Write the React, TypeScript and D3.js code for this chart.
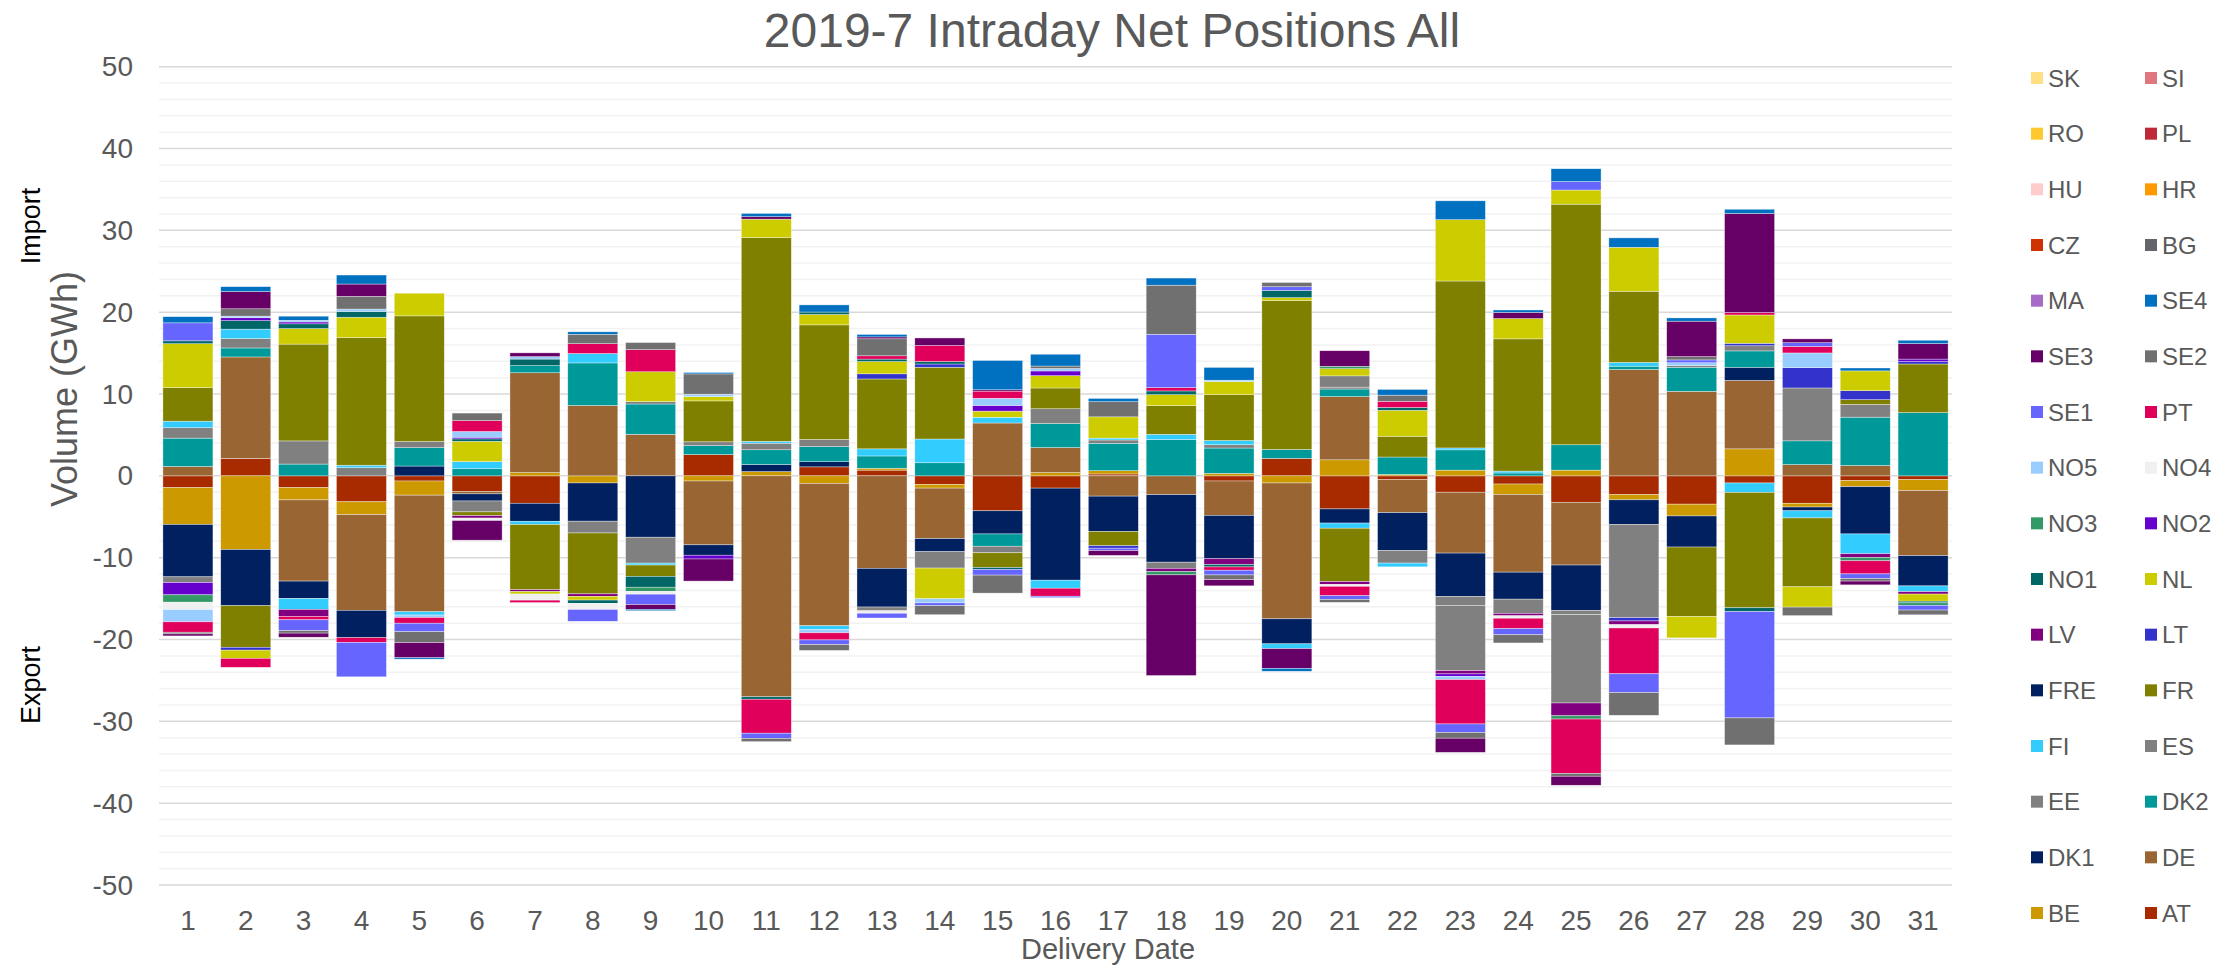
import * as d3 from 'd3';
import React from 'react';

// delivery days 1..31
const days = d3.range(1, 32).map(String);

// net position per day (GWh), positive = import, negative = export
const AT = [-1.44, 2.13, -1.44, -3.17, -0.63, -1.9, -3.35, 0, 0, 2.6, 0, 1.1, 0.7, -1.04, -4.27, -1.5, 0.23, 0, -0.63, 2.13, -4.04, -0.46, -2.0, -1.0, -3.23, -2.3, -3.46, -0.87, -3.35, -0.58, -0.46];
const BE = [-4.5, -9.0, -1.5, -1.56, -1.73, 0, 0.4, -0.87, 0, -0.63, 0.52, -0.92, 0.23, -0.46, 0, 0.4, 0.4, 0, 0.3, -0.87, 1.96, 0.17, 0.7, -1.27, 0.7, -0.63, -1.44, 3.3, -0.46, -0.75, -1.33];
const DE = [1.15, 12.4, -9.92, -11.7, -14.25, -0.3, 12.2, 8.6, 5.08, -7.8, -27.0, -17.4, -11.3, -6.17, 6.46, 3.06, -2.48, -2.3, -4.2, -16.6, 7.73, -4.04, -7.44, -9.5, -7.67, 13.0, 10.33, 8.37, 1.38, 1.27, -7.96];
const DK1 = [-6.4, -6.87, -2.13, -3.35, 1.2, -0.87, -2.2, -4.67, -7.5, -1.27, 0.87, 0.63, -4.73, -1.6, -2.83, -11.25, -4.33, -8.25, -5.3, -3.06, -1.73, -4.6, -5.3, -3.3, -5.54, -3.0, -3.8, 1.6, -0.46, -5.77, -3.7];
const DK2 = [3.46, 1.1, 1.44, 0, 2.25, 0.87, 0.87, 5.2, 3.7, 1.1, 1.8, 1.85, 1.5, 1.6, -1.5, 2.94, 3.35, 4.44, 3.1, 1.1, 0.92, 2.13, 2.48, 0.35, 3.1, 0.4, 2.94, 2.0, 2.9, 5.9, 7.73];
const EE = [-0.7, 0, 0, 0, 0, 0, 0, 0, 0.3, 0, 0, 0, 0, 0, 0, 0, 0, 0, 0, 0, 0.23, 0, -1.1, 0, -0.52, 0, 0, 0, 0, 0, 0];
const ES = [1.27, 1.15, 2.83, 1.0, 0.75, -1.33, 0, -1.44, -3.17, 0.46, 0.8, 0.87, -0.46, -2.0, -0.8, 1.8, 0.4, -0.75, 0.4, 0, 1.38, -1.56, -7.96, -1.73, -10.8, -11.4, 0.2, 0.63, 6.46, 1.56, 0];
const FI = [0.8, 1.15, -1.33, 0.3, -0.4, 0.87, -0.4, 1.15, -0.23, 0, 0.23, -0.46, 0.87, 2.9, 0.7, -0.98, 0.23, 0.63, 0.52, -0.58, -0.63, -0.46, 0.23, 0.23, 0, 0.46, 0, -1.15, -0.87, -2.42, -0.7];
const FR = [4.1, -5.08, 11.83, 15.6, 15.35, -0.46, -7.96, -7.44, -1.38, 5.0, 24.9, 14.0, 8.54, 8.77, -1.8, 2.54, -1.73, 3.52, 5.6, 18.2, -6.52, 2.54, 20.4, 16.16, 29.4, 8.7, -8.5, -14.1, -8.42, 0.58, 5.94];
const FRE = [0, 0, 0, 0, 0, 0, 0, 0, 0, 0, 0, 0, 0, 0, 0, 0, 0, 0, 0, 0, 0, 0, 0, 0, 0, 0, 0, 0, 0, 0, 0];
const LT = [0, -0.35, 0, 0, 0, 0, 0, 0, 0, 0, 0, 0, 0.63, 0.4, 0, 0, -0.3, 0, 0, 0, 0, 0, 0, 0, 0, -0.4, 0, 0.3, 2.48, 1.1, 0.3];
const LV = [0, 0, -0.87, 0, 0, -0.3, -0.23, -0.3, 0, 0, 0, 0, 0, 0, 0, 0, 0, -0.4, -0.7, 0, -0.35, 0, -0.4, -0.3, -1.56, -0.46, 0, 0, 0, -0.46, -0.3];
const NL = [5.37, -1.0, 1.9, 2.48, 2.77, 2.48, -0.3, -0.46, 3.64, 0.52, 2.25, 1.27, 1.5, -3.75, 0.75, 1.5, 2.6, 1.33, 1.6, 0.35, 0.87, 3.17, 7.5, 2.48, 1.73, 5.37, -2.6, 3.46, -2.48, 2.42, -0.87];
const NO1 = [0.35, 1.04, 0.58, 0.7, 0, 0.3, 0.8, -0.4, -1.33, 0, -0.3, 0.3, 0.3, 0.3, -0.23, 0, 0, 0.46, -0.3, 0.87, 0, 0.35, 0, 0, 0, 0, 0, -0.46, 0, 0, -0.2];
const NO2 = [-1.5, 0.35, 0.23, 0, 0, 0.2, 0, 0, 0, -0.46, 0, 0, 0, 0, 0.7, 0.58, 0, 0, 0, 0, 0, 0, -0.3, 0, 0, 0, 0, 0, 0, 0, 0.3];
const NO3 = [-0.9, 0, 0, 0, 0, 0, 0, 0, -0.5, 0, 0, 0, 0, 0, 0, 0, 0, -0.4, 0, 0, 0.3, 0, 0, 0, -0.4, 0, 0, 0, 0, -0.4, -0.3];
const NO4 = [-0.9, 0, 0, 0, 0, -0.3, -0.75, -0.75, -0.35, 0, 0, 0, -0.3, 0, 0, 0, 0, 0, 0, 0, -0.23, 0, 0, -0.3, 0, -0.4, 0, 0, 0, 0, 0];
const NO5 = [-1.5, 0.2, 0.2, 0.3, -0.3, 0.7, 0.3, 0, 0, 0.3, 0, -0.4, 0, -0.5, 0.87, 0.3, 0, 0, 0.17, 0, 0, 0, -0.4, 0, 0, 0, 0.35, 0, 1.8, 0, 0];
const PT = [-1.27, -1.1, -0.4, -0.58, -0.7, 1.33, -0.3, 1.2, 2.7, 0, -4.15, -0.87, 0.4, 1.96, 0.87, -0.98, 0, 0.4, -0.4, 0, -1.15, 0.75, -5.42, -1.27, -6.64, -5.6, 0, 0.3, 0.8, -1.6, 0];
const SE1 = [2.2, 0, -1.33, -4.2, -1.04, 0, 0, -1.44, -1.27, 0, -0.63, -0.58, -0.58, -0.35, -0.7, -0.17, -0.3, 6.52, -0.58, 0.46, -0.46, 0, -1.04, -0.75, 1.04, -2.3, 0.35, -13.0, 0.46, -0.58, -0.58];
const SE2 = [-0.2, 0.9, -0.3, 1.56, -1.33, 0.92, 0, 1.15, 0.87, 2.48, -0.4, -0.7, 2.08, -1.1, -2.2, 0.3, 1.85, 6.0, -0.58, 0.52, -0.35, 0.75, -0.7, -1.0, -0.35, -2.77, 0.4, -3.3, -1.04, -0.3, -0.58];
const SE3 = [-0.25, 2.1, -0.5, 1.5, -1.85, -2.4, 0.46, 0, -0.58, -2.7, 0.3, 0, 0.23, 0.92, 0.17, 0, -0.58, -12.3, -0.75, -2.42, 1.9, 0, -1.73, 0.75, -1.1, 0, 4.33, 12.1, 0.46, -0.46, 1.9];
const SE4 = [0.75, 0.6, 0.5, 1.1, -0.17, 0, 0, 0.3, -0.17, 0.17, 0.4, 0.87, 0.3, 0, 3.58, 1.44, 0.4, 0.87, 1.56, -0.35, 0, 0.7, 2.3, 0.3, 1.56, 1.15, 0.4, 0.52, 0, 0.35, 0.4];
const MA = [0, 0, 0, 0, 0, 0, 0, 0, 0, 0, 0, 0, 0, 0, 0, 0, 0, 0, 0, 0, 0, 0, 0, 0, 0, 0, 0, 0, 0, 0, 0];
const BG = [0, 0, 0, 0, 0, 0, 0, 0, 0, 0, 0, 0, 0, 0, 0, 0, 0, 0, 0, 0, 0, 0, 0, 0, 0, 0, 0, 0, 0, 0, 0];
const CZ = [0, 0, 0, 0, 0, 0, 0, 0, 0, 0, 0, 0, 0, 0, 0, 0, 0, 0, 0, 0, 0, 0, 0, 0, 0, 0, 0, 0, 0, 0, 0];
const HR = [0, 0, 0, 0, 0, 0, 0, 0, 0, 0, 0, 0, 0, 0, 0, 0, 0, 0, 0, 0, 0, 0, 0, 0, 0, 0, 0, 0, 0, 0, 0];
const HU = [0, 0, 0, 0, 0, 0, 0, 0, 0, 0, 0, 0, 0, 0, 0, 0, 0, 0, 0, 0, 0, 0, 0, 0, 0, 0, 0, 0, 0, 0, 0];
const PL = [0, 0, 0, 0, 0, 0, 0, 0, 0, 0, 0, 0, 0, 0, 0, 0, 0, 0, 0, 0, 0, 0, 0, 0, 0, 0, 0, 0, 0, 0, 0];
const RO = [0, 0, 0, 0, 0, 0, 0, 0, 0, 0, 0, 0, 0, 0, 0, 0, 0, 0, 0, 0, 0, 0, 0, 0, 0, 0, 0, 0, 0, 0, 0];
const SI = [0, 0, 0, 0, 0, 0, 0, 0, 0, 0, 0, 0, 0, 0, 0, 0, 0, 0, 0, 0, 0, 0, 0, 0, 0, 0, 0, 0, 0, 0, 0];
const SK = [0, 0, 0, 0, 0, 0, 0, 0, 0, 0, 0, 0, 0, 0, 0, 0, 0, 0, 0, 0, 0, 0, 0, 0, 0, 0, 0, 0, 0, 0, 0];

const series: [string, number[], string][] = [
  ['AT', AT, '#A82B00'], ['BE', BE, '#CC9900'], ['DE', DE, '#996633'], ['DK1', DK1, '#002060'],
  ['DK2', DK2, '#009999'], ['EE', EE, '#808080'], ['ES', ES, '#808080'], ['FI', FI, '#33CCFF'],
  ['FR', FR, '#808000'], ['FRE', FRE, '#002060'], ['LT', LT, '#3333CC'], ['LV', LV, '#800080'],
  ['NL', NL, '#CCCC00'], ['NO1', NO1, '#006666'], ['NO2', NO2, '#6600CC'], ['NO3', NO3, '#339966'],
  ['NO4', NO4, '#F0F0F0'], ['NO5', NO5, '#99CCFF'], ['PT', PT, '#E0005C'], ['SE1', SE1, '#6666FF'],
  ['SE2', SE2, '#707070'], ['SE3', SE3, '#660066'], ['SE4', SE4, '#0070C0'], ['MA', MA, '#A56BC6'],
  ['BG', BG, '#64656B'], ['CZ', CZ, '#CC3300'], ['HR', HR, '#FF9900'], ['HU', HU, '#FFCCCC'],
  ['PL', PL, '#BF2836'], ['RO', RO, '#FFC82E'], ['SI', SI, '#E0777F'], ['SK', SK, '#FFDF80'],
];

const keys = series.map(s => s[0]);
const color = new Map(series.map(s => [s[0], s[2]] as [string, string]));
const yTicks = [-50, -40, -30, -20, -10, 0, 10, 20, 30, 40, 50];

const font = 'Liberation Sans, Arial, sans-serif';
const textColor = '#595959';

const App: React.FC = () => {
  const rows = days.map((d, i) => {
    const r: Record<string, number | string> = { day: d };
    series.forEach(([k, vals]) => { r[k] = vals[i]; });
    return r;
  });

  const stacked = d3.stack<Record<string, number | string>>()
    .keys(keys)
    .value((d, k) => d[k] as number)
    .offset(d3.stackOffsetDiverging)(rows);

  const x = d3.scaleBand()
    .domain(days)
    .range([159, 1952])
    .paddingInner(0.135)
    .paddingOuter(0.0675);

  const y = d3.scaleLinear().domain([-50, 50]).range([885, 66.7]);

  const legendOrder = keys.slice().reverse();
  const rowY = d3.scaleLinear().domain([0, 15]).range([78, 913]);

  return (
    <svg width={2239} height={967} style={{ position: 'absolute', left: 0, top: 0, display: 'block', background: '#fff' }}>
      <text x={1112} y={30} textAnchor="middle" dominantBaseline="central" fontFamily={font} fontSize={48} fill={textColor}>
        2019-7 Intraday Net Positions All
      </text>

      <g>
        {d3.range(-50, 51, 2).map(v => (
          <line key={v} x1={159} x2={1952} y1={y(v)} y2={y(v)}
            stroke={v % 10 === 0 ? '#D9D9D9' : '#F2F2F2'} strokeWidth={1.5} />
        ))}
      </g>

      <g>
        {stacked.map(layer => (
          <g key={layer.key} fill={color.get(layer.key)}>
            {layer.map((seg, i) => {
              const h = Math.abs(y(seg[0]) - y(seg[1]));
              if (h < 0.01) return null;
              return (
                <rect key={i} x={x(days[i])} width={x.bandwidth()}
                  y={Math.min(y(seg[0]), y(seg[1]))} height={h}
                  stroke="#ffffff" strokeOpacity={0.6} strokeWidth={0.6} />
              );
            })}
          </g>
        ))}
      </g>

      <g fontFamily={font} fontSize={28} fill={textColor}>
        {yTicks.map(t => (
          <text key={t} x={133} y={y(t)} textAnchor="end" dominantBaseline="central">{t}</text>
        ))}
        {days.map(d => (
          <text key={d} x={(x(d) as number) + x.bandwidth() / 2} y={920} textAnchor="middle" dominantBaseline="central">{d}</text>
        ))}
      </g>

      <text x={1108} y={949} textAnchor="middle" dominantBaseline="central" fontFamily={font} fontSize={29} fill={textColor}>
        Delivery Date
      </text>
      <text transform="translate(64,389) rotate(-90)" textAnchor="middle" dominantBaseline="central" fontFamily={font} fontSize={36} fill={textColor}>
        Volume (GWh)
      </text>
      <text transform="translate(31,226) rotate(-90)" textAnchor="middle" dominantBaseline="central" fontFamily={font} fontSize={27} fill="#000">
        Import
      </text>
      <text transform="translate(31,685) rotate(-90)" textAnchor="middle" dominantBaseline="central" fontFamily={font} fontSize={27} fill="#000">
        Export
      </text>

      <g fontFamily={font} fontSize={24} fill={textColor}>
        {legendOrder.map((k, i) => {
          const col = i % 2;
          const row = Math.floor(i / 2);
          const sx = col === 0 ? 2031 : 2145;
          const cy = rowY(row);
          return (
            <g key={k}>
              <rect x={sx} y={cy - 6} width={12} height={12} fill={color.get(k)} />
              <text x={sx + 17} y={cy} dominantBaseline="central">{k}</text>
            </g>
          );
        })}
      </g>
    </svg>
  );
};

export default App;
